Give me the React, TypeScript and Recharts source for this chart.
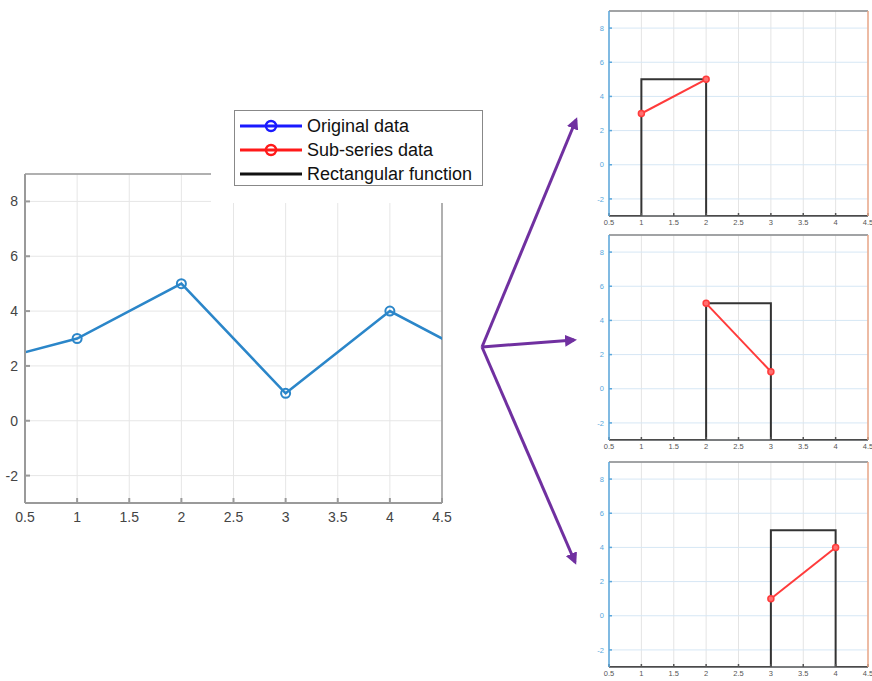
import { LineChart, Line, XAxis, YAxis, CartesianGrid, ReferenceLine } from 'recharts'

const X_TICKS = [0.5, 1, 1.5, 2, 2.5, 3, 3.5, 4, 4.5]
const Y_TICKS = [-2, 0, 2, 4, 6, 8]
const RIGHT_TICKS = [1, 5]

// original series (points at 0 and 5 run off the visible range)
const origX = [0, 1, 2, 3, 4, 5]
const origY = [2, 3, 5, 1, 4, 2]

// sub-series windows
const segStartX = [1, 2, 3]
const segEndX = [2, 3, 4]
const segStartY = [3, 5, 1]
const segEndY = [5, 1, 4]
const rectHigh = 5
const rectLow = -3

const FONT = '"Liberation Sans", Arial, sans-serif'
const BLUE = '#2b86c9'
const RED = '#ff3b3b'
const PURPLE = '#7030a0'

const origData = origX.map((x, i) => ({ x, y: origY[i] }))

const PANEL_TOPS = [6, 230, 457]

function SubChart({ idx }: { idx: number }) {
  const s = segStartX[idx]
  const e = segEndX[idx]
  const rectData = [
    { x: 0, r: rectLow },
    { x: s, r: rectLow },
    { x: s, r: rectHigh },
    { x: e, r: rectHigh },
    { x: e, r: rectLow },
    { x: 5, r: rectLow },
  ]
  const subData = [
    { x: s, y: segStartY[idx] },
    { x: e, y: segEndY[idx] },
  ]
  return (
    <div style={{ position: 'absolute', left: 590, top: PANEL_TOPS[idx] }}>
      <LineChart width={282} height={228} margin={{ top: 5, right: 0, bottom: 0, left: 0 }}>
        <CartesianGrid yAxisId="l" stroke="#e4e4e4" horizontal={false} />
        <CartesianGrid yAxisId="l" stroke="#d6e7f5" vertical={false} />
        <XAxis
          type="number"
          dataKey="x"
          domain={[0.5, 4.5]}
          ticks={X_TICKS}
          interval={0}
          allowDataOverflow
          height={18}
          stroke="#555"
          strokeWidth={1.5}
          tickSize={-3}
          tickMargin={7}
          tick={{ fill: '#555', fontSize: 7.5, fontFamily: FONT }}
        />
        <YAxis
          yAxisId="l"
          domain={[-3, 9]}
          ticks={Y_TICKS}
          interval={0}
          allowDataOverflow
          width={19}
          stroke="#5aa7dc"
          strokeWidth={1.5}
          tickSize={-3}
          tickMargin={8}
          tick={{ fill: '#5aa7dc', fontSize: 7.5, fontFamily: FONT }}
        />
        <YAxis
          yAxisId="r"
          orientation="right"
          domain={[-3, 9]}
          ticks={RIGHT_TICKS}
          width={4}
          stroke="#eba88a"
          strokeWidth={1.5}
          tickSize={-3}
          tickFormatter={() => ''}
        />
        <ReferenceLine yAxisId="l" y={9} stroke="#888" strokeWidth={1.5} />
        <Line
          yAxisId="l"
          data={rectData}
          dataKey="r"
          stroke="#333"
          strokeWidth={2}
          dot={false}
          isAnimationActive={false}
        />
        <Line
          yAxisId="l"
          data={subData}
          dataKey="y"
          stroke={RED}
          strokeWidth={2}
          dot={{ r: 3, stroke: RED, strokeWidth: 1.5, fill: '#ff7070' }}
          isAnimationActive={false}
        />
      </LineChart>
    </div>
  )
}

function LegendRow({ color, marker, label }: { color: string; marker: boolean; label: string }) {
  return (
    <div style={{ display: 'flex', alignItems: 'center', height: 24 }}>
      <svg width={62} height={14} style={{ marginLeft: 5 }}>
        <line x1={0} y1={7} x2={62} y2={7} stroke={color} strokeWidth={3} />
        {marker && <circle cx={31} cy={7} r={5} stroke={color} strokeWidth={2.5} fill="none" />}
      </svg>
      <span style={{ marginLeft: 5, fontSize: 18, fontFamily: FONT, color: '#111' }}>{label}</span>
    </div>
  )
}

export default function App() {
  return (
    <div style={{ position: 'absolute', left: 0, top: 0, width: 872, height: 681, background: '#fff', overflow: 'hidden' }}>
      <div style={{ position: 'absolute', left: 0, top: 160 }}>
        <LineChart width={460} height={370} data={origData} margin={{ top: 14, right: 18, bottom: 0, left: 0 }}>
          <CartesianGrid stroke="#e6e6e6" />
          <XAxis
            type="number"
            dataKey="x"
            domain={[0.5, 4.5]}
            ticks={X_TICKS}
            interval={0}
            allowDataOverflow
            height={27}
            stroke="#9a9a9a"
            strokeWidth={2}
            tickSize={-5}
            tickMargin={14}
            tick={{ fill: '#444', fontSize: 14, fontFamily: FONT }}
          />
          <YAxis
            domain={[-3, 9]}
            ticks={Y_TICKS}
            interval={0}
            allowDataOverflow
            width={25}
            stroke="#9a9a9a"
            strokeWidth={2}
            tickSize={-5}
            tickMargin={12}
            tick={{ fill: '#444', fontSize: 14, fontFamily: FONT }}
          />
          <ReferenceLine y={9} stroke="#9a9a9a" strokeWidth={1.5} />
          <ReferenceLine x={4.5} stroke="#9a9a9a" strokeWidth={1.5} />
          <Line
            dataKey="y"
            stroke={BLUE}
            strokeWidth={2.5}
            dot={{ r: 4.5, stroke: BLUE, strokeWidth: 2, fill: 'none' }}
            isAnimationActive={false}
          />
        </LineChart>
      </div>

      {/* white patch behind the legend, hides the top corner of the left axes */}
      <div style={{ position: 'absolute', left: 211, top: 165, width: 240, height: 38, background: '#fff' }} />

      <div
        style={{
          position: 'absolute',
          left: 234,
          top: 110,
          width: 249,
          height: 76,
          border: '1px solid #888',
          background: '#fff',
          paddingTop: 3,
          boxSizing: 'border-box',
        }}
      >
        <LegendRow color="#1a1aff" marker label="Original data" />
        <LegendRow color="#ff1a1a" marker label="Sub-series data" />
        <LegendRow color="#111" marker={false} label="Rectangular function" />
      </div>

      {[0, 1, 2].map((i) => (
        <SubChart key={i} idx={i} />
      ))}

      <svg width={872} height={681} style={{ position: 'absolute', left: 0, top: 0, pointerEvents: 'none' }}>
        <defs>
          <marker id="ah" markerWidth={4} markerHeight={4} refX={3} refY={2} orient="auto" markerUnits="strokeWidth">
            <path d="M0,0 L4,2 L0,4 Z" fill={PURPLE} />
          </marker>
        </defs>
        <line x1={482} y1={347} x2={576} y2={120} stroke={PURPLE} strokeWidth={3} markerEnd="url(#ah)" />
        <line x1={482} y1={347} x2={574} y2={340} stroke={PURPLE} strokeWidth={3} markerEnd="url(#ah)" />
        <line x1={482} y1={347} x2={575} y2={562} stroke={PURPLE} strokeWidth={3} markerEnd="url(#ah)" />
      </svg>
    </div>
  )
}
